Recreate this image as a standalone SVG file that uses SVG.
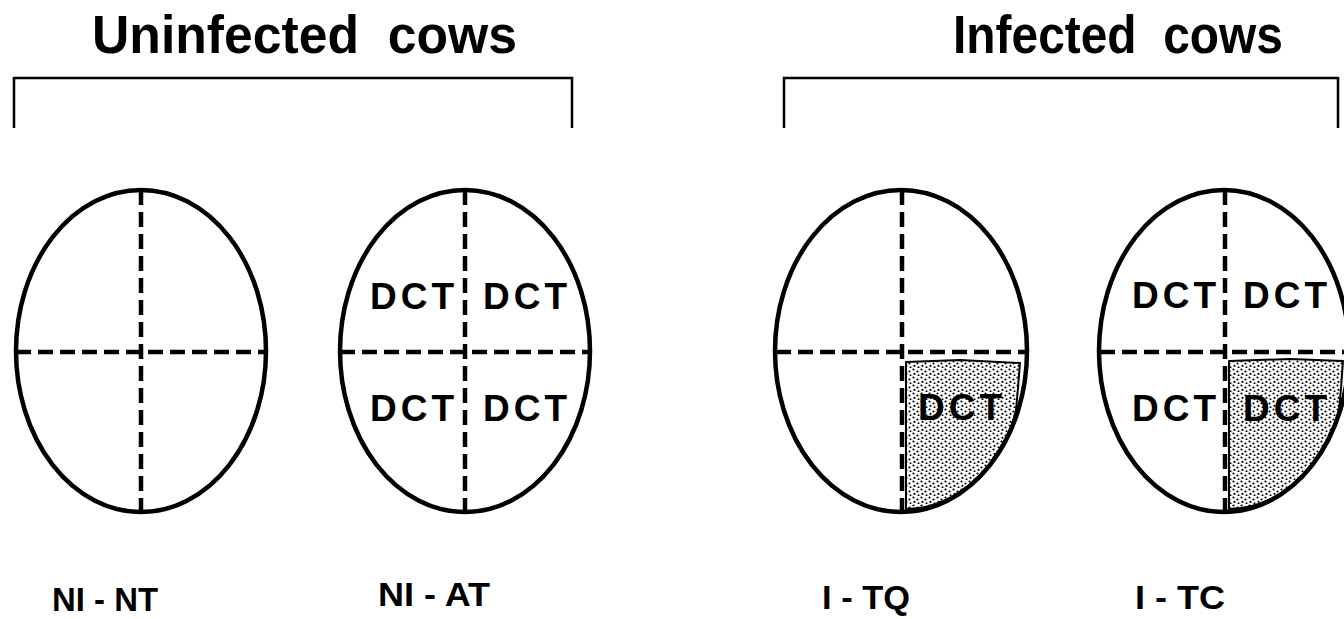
<svg xmlns="http://www.w3.org/2000/svg" width="1344" height="619" viewBox="0 0 1344 619">
<style>
.hdr{font-family:"Liberation Sans",Arial,sans-serif;font-weight:bold;font-size:53px;fill:#000}
.lbl{font-family:"Liberation Sans",Arial,sans-serif;font-weight:bold;font-size:34px;fill:#000}
.dct{font-family:"Liberation Sans",Arial,sans-serif;font-weight:bold;font-size:37px;letter-spacing:4px;fill:#000}
.udder{fill:none;stroke:#000;stroke-width:4.5}
.dash{fill:none;stroke:#000;stroke-width:4.5;stroke-dasharray:15 7}
.brk{fill:none;stroke:#000;stroke-width:2.5}
.shade{fill:url(#dots);stroke:#000;stroke-width:2;stroke-linejoin:round}
</style>
<defs>
<pattern id="dots" width="8" height="8" patternUnits="userSpaceOnUse">
<rect width="8" height="8" fill="#fff"/>
<circle cx="1.5" cy="1.5" r="1.1" fill="#000"/>
<circle cx="5.5" cy="3.5" r="1.1" fill="#000"/>
<circle cx="2.5" cy="5.8" r="1.1" fill="#000"/>
<circle cx="6.5" cy="7.2" r="1" fill="#000"/>
</pattern>
</defs>
<rect width="1344" height="619" fill="#fff"/>

<g id="header-uninfected">
<text class="hdr" x="92" y="53" textLength="425" lengthAdjust="spacingAndGlyphs" xml:space="preserve">Uninfected  cows</text>
<path class="brk" d="M14,128 V78 H572 V128"/>
</g>
<g id="header-infected">
<text class="hdr" x="953" y="53" textLength="330" lengthAdjust="spacingAndGlyphs" xml:space="preserve">Infected  cows</text>
<path class="brk" d="M784,128 V78 H1338 V128"/>
</g>

<g id="node-ni-nt">
<ellipse class="udder" cx="141" cy="351" rx="125" ry="161"/>
<line class="dash" x1="141" y1="190" x2="141" y2="512"/>
<line class="dash" x1="16" y1="352" x2="266" y2="352"/>
<text class="lbl" x="52" y="611" textLength="106" lengthAdjust="spacingAndGlyphs" xml:space="preserve">NI - NT</text>
</g>

<g id="node-ni-at">
<ellipse class="udder" cx="465" cy="351" rx="125" ry="161"/>
<line class="dash" x1="465" y1="190" x2="465" y2="512"/>
<line class="dash" x1="340" y1="352" x2="590" y2="352"/>
<text class="dct" x="370" y="309">DCT</text>
<text class="dct" x="483" y="309">DCT</text>
<text class="dct" x="370" y="421">DCT</text>
<text class="dct" x="483" y="421">DCT</text>
<text class="lbl" x="378" y="606" textLength="112" lengthAdjust="spacingAndGlyphs" xml:space="preserve">NI - AT</text>
</g>

<g id="node-i-tq">
<path class="shade" d="M906,362 L960,360 L1020,363 L1018,388 L1016,410 L1012,426 A121 156 0 0 1 906,509 Z"/>
<ellipse class="udder" cx="901" cy="351" rx="126" ry="161"/>
<line class="dash" x1="902" y1="190" x2="902" y2="512"/>
<line class="dash" x1="776" y1="352" x2="1026" y2="352"/>
<text class="dct" x="918" y="420">DCT</text>
<text class="lbl" x="822" y="609" textLength="88" lengthAdjust="spacingAndGlyphs" xml:space="preserve">I - TQ</text>
</g>

<g id="node-i-tc">
<path class="shade" d="M1229,361 L1290,359 L1343,361 L1341,388 L1339,410 L1335,426 A121 156 0 0 1 1229,509 Z"/>
<ellipse class="udder" cx="1224" cy="351" rx="125" ry="161"/>
<line class="dash" x1="1225" y1="190" x2="1225" y2="512"/>
<line class="dash" x1="1100" y1="352" x2="1344" y2="352"/>
<text class="dct" x="1132" y="308">DCT</text>
<text class="dct" x="1243" y="308">DCT</text>
<text class="dct" x="1132" y="421">DCT</text>
<text class="dct" x="1243" y="421">DCT</text>
<text class="lbl" x="1135" y="609" textLength="90" lengthAdjust="spacingAndGlyphs" xml:space="preserve">I - TC</text>
</g>

<g id="connectors"></g>
</svg>
